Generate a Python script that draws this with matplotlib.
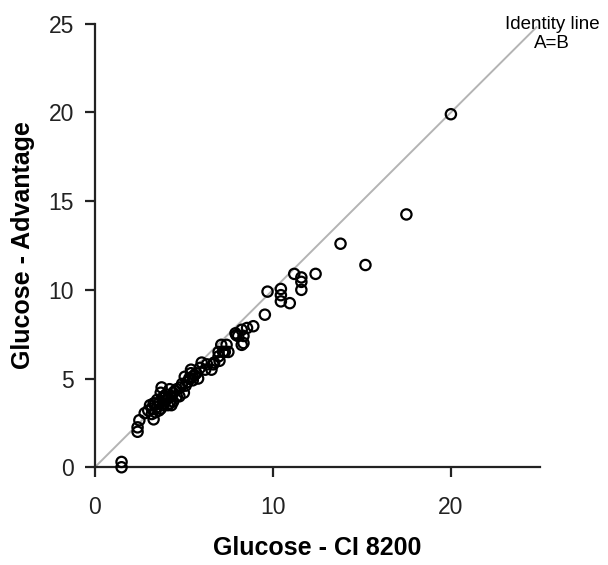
import matplotlib
matplotlib.use("Agg")
import matplotlib.pyplot as plt

plt.rcParams['font.family'] = ['Liberation Sans', 'DejaVu Sans']

# CI 8200 (x) vs Advantage (y) glucose readings
ci8200 = [1.5, 1.5,
          2.4, 2.4, 2.5, 2.8, 3.3,
          3.0, 3.1, 3.2, 3.3, 3.4, 3.5, 3.5, 3.6, 3.7, 3.75, 3.8, 3.9, 4.0, 4.0,
          4.1, 4.2, 4.3, 4.4, 4.5, 4.6, 4.75, 4.8, 4.9, 5.0, 5.05, 5.2, 5.3, 5.35,
          5.4, 5.4, 5.5, 5.6, 5.7, 5.8, 6.0, 6.2, 6.55, 6.65, 6.7, 6.95, 6.95,
          7.0, 7.1, 7.2, 7.3, 7.4, 7.5,
          3.2, 3.4, 3.6, 3.8, 3.9, 4.1, 4.2, 4.4, 4.6, 4.3, 3.7, 5.1, 5.5, 5.9, 6.3,
          7.9, 7.95, 8.05, 8.25, 8.25, 8.35, 8.35, 8.55, 8.9, 9.55, 9.7,
          10.45, 10.45, 10.45, 10.95, 11.2, 11.6, 11.6, 11.6, 12.4,
          13.8, 15.2, 17.5, 20.0]
advantage = [0.0, 0.3,
             2.0, 2.25, 2.65, 3.05, 2.7,
             3.2, 3.5, 3.3, 3.6, 3.1, 3.4, 3.8, 3.6, 3.3, 4.5, 3.9, 3.6, 4.1, 3.8,
             3.5, 4.4, 4.0, 3.7, 4.3, 4.0, 4.0, 4.5, 4.7, 4.2, 5.1, 4.8, 5.0, 5.0,
             5.5, 5.3, 4.9, 5.2, 5.3, 5.0, 5.9, 5.5, 5.5, 5.8, 5.9, 6.25, 6.5,
             6.0, 6.9, 6.5, 6.5, 6.9, 6.5,
             3.0, 3.6, 3.2, 3.5, 4.0, 3.9, 3.6, 4.2, 4.4, 3.5, 4.2, 4.6, 5.1, 5.6, 5.8,
             7.55, 7.45, 7.4, 7.75, 6.9, 7.4, 7.0, 7.85, 7.95, 8.6, 9.9,
             10.05, 9.7, 9.35, 9.25, 10.9, 10.7, 10.45, 10.0, 10.9,
             12.6, 11.4, 14.25, 19.9]

ticks = [0, 5, 10, 15, 20, 25]

fig = plt.figure(figsize=(6.08, 5.65), dpi=100)
ax = fig.add_axes([0.156, 0.173, 0.732, 0.785])

# identity line
ax.plot([0, 24.8], [0, 24.8], color='#b4b4b4', lw=1.4, zorder=1)
ax.scatter(ci8200, advantage, s=55, facecolors='none', edgecolors='black',
           linewidths=1.6, zorder=3, clip_on=False)

ax.set_xlim(0, 25)
ax.set_ylim(0, 25)
ax.set_xticks([0, 10, 20])
ax.set_yticks(ticks)
ax.spines['top'].set_visible(False)
ax.spines['right'].set_visible(False)
for sp in ['left', 'bottom']:
    ax.spines[sp].set_linewidth(1.6)
    ax.spines[sp].set_color('#222222')
ax.tick_params(axis='x', length=7, width=1.6, labelsize=16.5, pad=14, colors='#222222')
ax.tick_params(axis='y', length=7, width=1.6, labelsize=16.5, pad=8, colors='#222222')

ax.set_xlabel('Glucose - CI 8200', fontsize=18, fontweight='bold', labelpad=12)
ax.set_ylabel('Glucose - Advantage', fontsize=18, fontweight='bold', labelpad=10)

ax.text(25.7, 24.4, 'Identity line\nA=B', ha='center', va='center',
        fontsize=13.5, linespacing=1.15, clip_on=False)

fig.savefig('out.png', dpi=100)
